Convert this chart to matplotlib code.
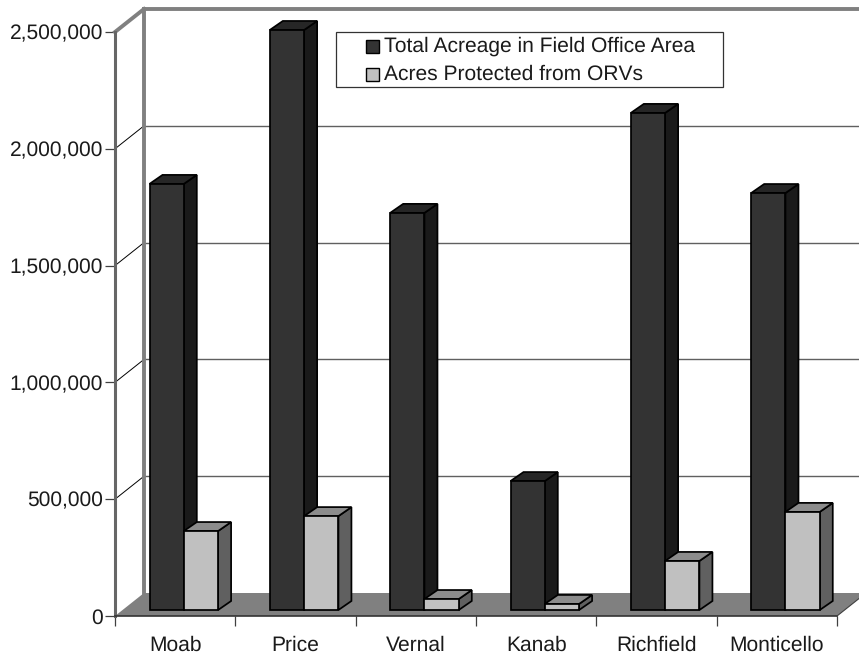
import matplotlib
matplotlib.use('Agg')
import matplotlib.pyplot as plt
from matplotlib.patches import Polygon, Rectangle
import numpy as np

plt.rcParams['font.family'] = ['Liberation Sans', 'DejaVu Sans']
plt.rcParams['text.hinting'] = 'none'
plt.rcParams['text.hinting_factor'] = 1

offices = ['Moab', 'Price', 'Vernal', 'Kanab', 'Richfield', 'Monticello']
total_acres = [1824000, 2483000, 1700000, 552000, 2128000, 1785000]
protected_acres = [338000, 402000, 47000, 26000, 210000, 420000]
y_ticks = [0, 500000, 1000000, 1500000, 2000000, 2500000]

W, H = 859, 652
dark, dark_top, dark_side = '#333333', '#262626', '#1a1a1a'
light, light_top, light_side = '#c0c0c0', '#8c8c8c', '#606060'
wall = '#808080'

fig = plt.figure(figsize=(W / 100, H / 100), dpi=100)
# axes = the front plane of the fake 3d box, in pixels
left, right, top, bottom = 115, 837, 32, 616
ax = fig.add_axes([left / W, 1 - bottom / H, (right - left) / W, (bottom - top) / H])
ax.set_xlim(0, 6)
ax.set_ylim(0, 2500000)
ax.patch.set_visible(False)
for s in ax.spines.values():
    s.set_visible(False)

# pixels to data units
px = 6 / (right - left)
py = 2500000 / (bottom - top)
dx, dy = 29 * px, 23 * py

# floor
ax.add_patch(Polygon([(0, 0), (dx, dy), (6 + dx, dy), (6, 0)], closed=True,
                     fc=wall, ec='none', clip_on=False, zorder=1))

# gridlines on the back wall and the left wall
for v in y_ticks[1:-1]:
    ax.plot([dx, 6 + dx], [v + dy, v + dy], color='#606060', lw=1.0, clip_on=False, zorder=1)
    ax.plot([0, dx], [v, v + dy], color='black', lw=0.7, clip_on=False, zorder=1)

# box edges
edge = dict(color='#808080', lw=2.8, clip_on=False, zorder=2, solid_capstyle='projecting')
ax.plot([dx, dx], [dy, 2500000 + dy], **edge)
ax.plot([dx, 6 + dx], [2500000 + dy, 2500000 + dy], **edge)
ax.plot([0, dx], [2500000, 2500000 + dy], **edge)
ax.plot([0, 0], [0, 2500000], color='#666666', lw=2.2, clip_on=False, zorder=2)
ax.plot([0, 6], [0, 0], color='#333333', lw=1.2, clip_on=False, zorder=2)
ax.plot([6, 6 + dx], [0, dy], color='#404040', lw=0.8, clip_on=False, zorder=2)


def box(x0, w, h, fc, fc_top, fc_side, z):
    base = 6 * py
    ddx, ddy = 13 * px, 9 * py
    y1 = base + h
    lw = 1.25
    ax.add_patch(Polygon([(x0 + w, base), (x0 + w + ddx, base + ddy), (x0 + w + ddx, y1 + ddy), (x0 + w, y1)],
                         closed=True, fc=fc_side, ec='black', lw=lw, clip_on=False, zorder=z))
    ax.add_patch(Polygon([(x0, y1), (x0 + ddx, y1 + ddy), (x0 + w + ddx, y1 + ddy), (x0 + w, y1)],
                         closed=True, fc=fc_top, ec='black', lw=lw, clip_on=False, zorder=z))
    ax.bar(x0, h, w, bottom=base, align='edge', color=fc, edgecolor='black', linewidth=lw,
           clip_on=False, zorder=z)


bar_w = 34.3 * px
start = 34.5 * px
for i in range(len(offices)):
    box(i + start, bar_w, total_acres[i], dark, dark_top, dark_side, 3 + i * 2)
    box(i + start + bar_w, bar_w, protected_acres[i], light, light_top, light_side, 4 + i * 2)

ax.set_yticks(y_ticks)
ax.set_yticklabels([f'{v:,}' for v in y_ticks])
ax.set_xticks(np.arange(7))
ax.set_xticklabels([])
ax.tick_params(axis='y', length=7.2, width=0.9, color='#404040', labelsize=15.2, pad=1.5, labelcolor='#1a1a1a')
ax.tick_params(axis='x', length=7.2, width=0.9, color='#404040')
for i, name in enumerate(offices):
    ax.text(i + 0.5, -20 * py, name, ha='center', va='top', fontsize=15.2, color='#1a1a1a', clip_on=False)

# legend drawn by hand, the excel look needs small bordered squares
fig.add_artist(Rectangle((336 / W, 1 - 87 / H), 387 / W, 55 / H, fc='white', ec='#333333', lw=0.9,
                         transform=fig.transFigure, zorder=50))
fig.add_artist(Rectangle((365.5 / W, 1 - 53 / H), 13 / W, 13 / H, fc=dark, ec='black', lw=1.0,
                         transform=fig.transFigure, zorder=51))
fig.add_artist(Rectangle((365.5 / W, 1 - 81 / H), 13 / W, 13 / H, fc=light, ec='black', lw=1.0,
                         transform=fig.transFigure, zorder=51))
fig.text(384 / W, 1 - 46 / H, 'Total Acreage in Field Office Area', fontsize=15.2, va='center',
         color='#1a1a1a', zorder=52)
fig.text(384 / W, 1 - 74 / H, 'Acres Protected from ORVs', fontsize=15.2, va='center',
         color='#1a1a1a', zorder=52)

fig.savefig('out.png', dpi=100)
